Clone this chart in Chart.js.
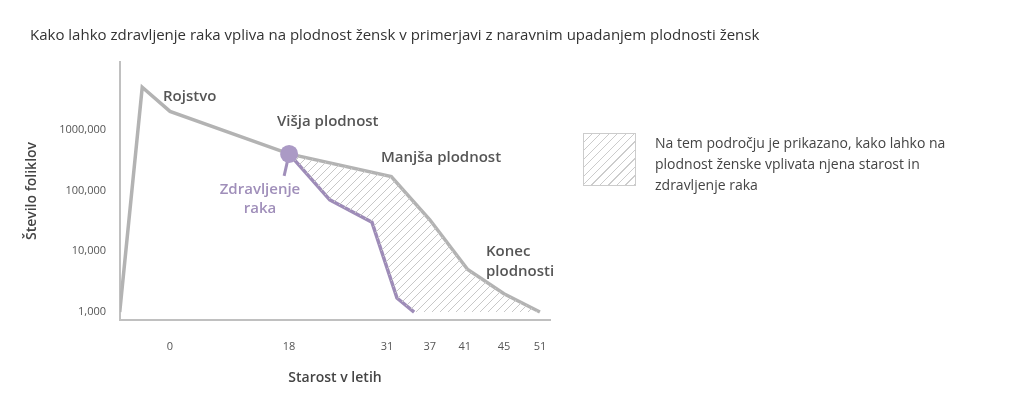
<!DOCTYPE html>
<html><head><meta charset="utf-8">
<script src="https://cdn.jsdelivr.net/npm/chart.js@4/dist/chart.umd.min.js"></script>
<style>
body{margin:0;background:#fff;font-family:"Open Sans",sans-serif;}
#wrap{position:relative;width:1024px;height:408px;}
canvas{position:absolute;left:0;top:0;}
#title{position:absolute;left:30px;top:24px;font-size:15px;color:#333;}
#leg{position:absolute;left:583px;top:133px;width:53px;height:53px;border:1px solid #ccc;box-sizing:border-box;
background:repeating-linear-gradient(135deg,#fff 0 5px,#ccc 5px 6px);}
#legt{position:absolute;left:655px;top:132px;width:330px;font-size:14px;line-height:21px;color:#444;}
</style></head><body>
<div id="wrap">
<canvas id="c" width="1024" height="408"></canvas>
<div id="title">Kako lahko zdravljenje raka vpliva na plodnost žensk v primerjavi z naravnim upadanjem plodnosti žensk</div>
<div id="leg"></div>
<div id="legt">Na tem področju je prikazano, kako lahko na plodnost ženske vplivata njena starost in zdravljenje raka</div>
</div>
<script>
const tickAges = [0, 18, 31, 37, 41, 45, 51];
const tickSlots = [0, 3.31, 6.03, 7.22, 8.19, 9.28, 10.28];
const yTicks = [1000, 10000, 100000, 1000000];
const yTickLabels = ["1,000", "10,000", "100,000", "1000,000"];
const naturalAges = [-7.6, -4.2, 0, 18, 31.6, 37, 41.3, 45, 51];
const naturalValues = [1000, 5000000, 2000000, 400000, 170000, 33000, 5000, 2000, 1000];
const treatedAges = [18, 23.4, 29, 32.4, 34.8];
const treatedValues = [400000, 70000, 30000, 1700, 1000];

function slot(a){
  if(a<=tickAges[0]) return tickSlots[0]+(a-tickAges[0])*(tickSlots[1]-tickSlots[0])/(tickAges[1]-tickAges[0]);
  for(let i=1;i<tickAges.length;i++){
    if(a<=tickAges[i]) return tickSlots[i-1]+(a-tickAges[i-1])*(tickSlots[i]-tickSlots[i-1])/(tickAges[i]-tickAges[i-1]);
  }
  return tickSlots[tickSlots.length-1];
}
const pts=(xs,ys)=>xs.map((a,i)=>({x:slot(a),y:ys[i]}));
const natural=pts(naturalAges,naturalValues);
const treated=pts(treatedAges,treatedValues);
const i18=naturalAges.indexOf(18);
const upper=natural.slice(i18);
const lower=treated.concat([{x:slot(51),y:1000}]);

const pc=document.createElement('canvas');pc.width=8;pc.height=8;
const px=pc.getContext('2d');px.strokeStyle='#c8c8c8';px.lineWidth=1;
px.beginPath();px.moveTo(0,8);px.lineTo(8,0);px.moveTo(-2,2);px.lineTo(2,-2);px.moveTo(6,10);px.lineTo(10,6);px.stroke();
const pattern=px.createPattern(pc,'repeat');

const labels={
  id:'labels',
  afterDatasetsDraw(ch){
    const x=ch.scales.x,y=ch.scales.y,c=ch.ctx;
    const P=(a,v)=>[x.getPixelForValue(slot(a)),y.getPixelForValue(v)];
    c.save();
    c.font='600 15px "Open Sans"';c.fillStyle='#555';c.textBaseline='middle';c.textAlign='left';
    c.fillText('Rojstvo',163,97);
    c.fillText('Višja plodnost',277,122);
    c.fillText('Manjša plodnost',381,158);
    c.fillText('Konec',486,252);
    c.fillText('plodnosti',486,272);
    c.fillStyle='#a08fba';c.textAlign='center';
    c.fillText('Zdravljenje',260,190);
    c.fillText('raka',260,209);
    const [dx,dy]=P(18,400000);
    c.strokeStyle='#a08fba';c.lineWidth=3;c.beginPath();c.moveTo(dx,dy);c.lineTo(dx-5,dy+22);c.stroke();
    c.fillStyle='#ab9ac5';c.beginPath();c.arc(dx,dy,9,0,Math.PI*2);c.fill();
    c.restore();
  }
};

new Chart(document.getElementById('c'),{
  type:'line',
  data:{datasets:[
    {data:lower,borderWidth:0,pointRadius:0,fill:false,tension:0},
    {data:upper,borderWidth:0,pointRadius:0,fill:0,backgroundColor:pattern,tension:0},
    {data:natural,borderColor:'#b3b3b3',borderWidth:3.5,pointRadius:0,fill:false,tension:0},
    {data:treated,borderColor:'#9e8cb8',borderWidth:3.5,pointRadius:0,fill:false,tension:0}
  ]},
  options:{
    responsive:false,animation:false,
    layout:{padding:{left:20,top:62,right:474,bottom:18}},
    plugins:{legend:{display:false},tooltip:{enabled:false}},
    scales:{
      x:{type:'linear',min:-1.39,max:10.56,
        afterBuildTicks(s){s.ticks=tickSlots.map(v=>({value:v}));},
        afterFit(s){s.height=70;},
        ticks:{callback:(v,i)=>String(tickAges[i]),color:'#555',font:{size:11,family:'"Open Sans"'},padding:20,maxRotation:0,autoSkip:false},
        grid:{display:false,drawTicks:false},border:{color:'#c0c0c0',width:2},
        title:{display:true,text:'Starost v letih',color:'#444',font:{size:14,weight:'600',family:'"Open Sans"'},padding:{top:14}}},
      y:{type:'logarithmic',min:740,max:13000000,
        afterBuildTicks(s){s.ticks=yTicks.map(v=>({value:v}));},
        afterFit(s){s.width=100;},
        ticks:{callback:(v,i)=>yTickLabels[i],color:'#555',font:{size:11,family:'"Open Sans"'},padding:14},
        grid:{display:false,drawTicks:false},border:{color:'#c0c0c0',width:2},
        title:{display:true,text:'Število foliklov',color:'#444',font:{size:14,weight:'600',family:'"Open Sans"'},padding:{bottom:4}}}
    }
  },
  plugins:[labels]
});
</script>
</body></html>
